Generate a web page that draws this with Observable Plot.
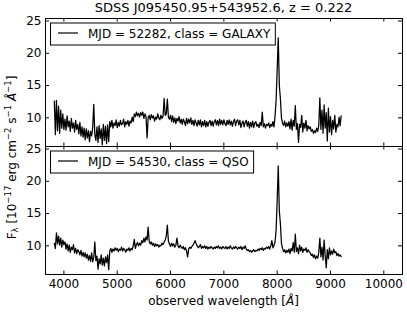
<!DOCTYPE html>
<html><head><meta charset="utf-8">
<script src="https://cdn.jsdelivr.net/npm/d3@7"></script>
<script src="https://cdn.jsdelivr.net/npm/@observablehq/plot@0.6"></script>
<style>body{margin:0;background:#fff} #chart{position:relative;width:407px;height:315px}</style>
</head><body><div id="chart"></div>
<script>
const startWavelength = 3820;
const stepWavelength = 20;
const galaxyFlux = [
12.6,7.4,12.7,8.0,11.8,7.6,11.2,8.4,10.6,8.2,
9.8,8.1,10.3,8.6,9.5,7.9,9.9,8.4,9.2,7.8,
9.6,8.2,9.0,7.5,9.3,7.2,8.6,7.0,8.4,6.6,
8.3,6.9,8.0,6.3,7.9,7.2,8.5,12.1,7.4,6.5,
8.6,6.2,8.8,6.8,8.3,5.8,9.0,6.5,8.7,6.0,
8.9,6.3,9.4,8.6,9.6,8.4,9.2,8.8,9.7,8.5,
9.3,8.7,9.6,8.9,9.1,9.8,8.6,9.4,9.0,9.6,
8.7,9.5,9.2,10.1,9.4,10.6,10.2,10.9,10.3,10.7,
10.1,10.8,10.4,10.9,9.9,10.6,10.2,6.9,10.0,10.4,
9.7,10.5,10.0,10.3,9.5,10.1,9.8,10.6,10.0,9.7,
10.4,9.9,10.3,13.0,10.4,10.6,12.9,10.1,9.8,10.4,
9.4,10.3,9.3,10.0,9.1,9.9,9.5,10.2,9.2,9.8,
9.0,9.8,9.4,8.8,9.9,9.1,9.8,9.2,10.0,9.0,
9.6,8.8,9.7,9.2,8.7,9.6,8.9,9.7,8.6,9.4,
8.8,9.6,8.6,9.4,8.7,9.3,9.6,8.8,9.5,8.7,
9.4,9.7,8.9,9.6,8.8,9.8,9.0,9.6,8.9,9.7,
9.1,8.8,9.6,9.0,9.7,8.9,9.5,8.7,9.4,9.8,
8.8,9.5,9.7,8.9,9.6,8.5,9.2,9.5,8.6,9.3,
9.6,8.7,9.4,8.4,9.3,8.6,9.5,8.5,9.2,9.4,
8.7,9.0,8.5,9.3,8.8,10.9,8.6,9.1,8.4,9.0,
8.8,9.2,8.5,9.0,8.7,9.4,8.6,10.3,12.8,17.5,
22.4,15.0,13.0,10.0,9.2,8.8,9.5,8.6,9.2,8.7,
9.4,8.3,9.8,8.1,9.6,8.7,11.9,8.2,9.1,6.2,
9.0,8.5,10.4,7.8,9.2,8.4,9.6,8.0,8.8,8.3,
8.6,7.9,8.2,7.6,8.0,7.7,8.4,7.9,8.8,13.1,
8.2,11.2,7.6,12.0,8.4,10.8,6.4,11.5,7.8,10.2,
7.4,9.6,8.3,10.4,7.8,9.0,8.6,10.1,8.8,10.3];
const qsoFlux = [
10.4,9.6,12.0,10.3,11.5,10.1,11.2,9.8,10.9,10.2,
10.6,9.5,10.3,9.2,10.1,9.0,9.8,9.4,10.2,8.9,
9.6,8.8,9.4,9.1,8.6,9.3,8.4,9.0,8.3,8.9,
8.1,8.7,7.8,8.5,7.6,8.9,7.5,8.2,10.6,7.7,
8.4,6.4,8.0,7.2,8.6,7.0,8.1,6.9,8.3,7.4,
8.6,6.3,9.2,9.6,9.0,9.5,9.2,9.7,9.3,9.6,
9.1,9.5,9.3,9.8,9.2,9.6,9.4,9.0,9.5,9.3,
9.7,9.2,9.6,9.4,10.0,11.0,9.6,10.2,10.5,10.0,
10.4,10.1,10.8,10.5,11.2,10.6,11.4,10.9,12.9,10.7,
10.3,10.6,10.1,10.4,9.9,10.3,10.0,10.2,9.8,10.1,
10.0,10.4,10.2,10.6,10.9,11.5,13.2,10.7,10.3,9.9,
10.4,10.0,10.3,9.8,10.1,11.2,10.0,9.7,10.1,9.8,
9.6,9.9,9.4,9.7,9.2,8.3,9.5,9.8,9.6,9.9,
10.1,10.4,10.8,10.3,10.0,9.7,9.9,10.2,9.6,9.9,
9.7,10.0,9.6,9.9,9.5,9.8,9.6,9.9,9.7,9.5,
9.8,9.6,9.9,9.7,10.0,9.6,9.8,9.5,9.9,9.7,
9.6,9.9,9.5,9.8,9.6,10.0,9.7,9.5,9.8,9.6,
9.9,9.7,9.5,9.8,9.6,9.9,9.4,9.8,9.6,10.0,
9.5,9.3,9.4,9.1,9.3,9.0,9.2,9.4,9.1,9.3,
9.2,9.5,9.3,9.6,9.4,9.7,9.3,9.6,9.5,9.8,
9.6,9.9,9.5,10.0,10.8,9.7,10.1,10.6,12.5,17.0,
22.4,15.4,13.5,10.4,9.6,9.1,9.4,8.9,9.3,9.0,
9.5,8.8,9.6,9.2,10.5,9.0,11.8,9.1,9.7,8.8,
10.1,9.2,9.8,9.0,9.5,9.3,9.7,9.0,9.4,9.1,
8.9,8.5,8.7,8.2,8.6,8.0,8.4,8.1,9.0,11.2,
8.3,9.8,7.8,10.9,8.5,6.6,9.4,8.0,9.7,8.6,
9.2,8.7,9.5,8.9,9.1,8.5,8.8,8.4,8.6,8.3];
const panels = ["GALAXY", "QSO"];
const legendLabels = ["MJD = 52282, class = GALAXY", "MJD = 54530, class = QSO"];
const xTicks = [4000, 5000, 6000, 7000, 8000, 9000, 10000];
const yTicks = [10, 15, 20, 25];
const titleText = "SDSS J095450.95+543952.6, z = 0.222";

const rows = [];
galaxyFlux.forEach((f, i) => rows.push({panel: "GALAXY", wl: startWavelength + i * stepWavelength, flux: f}));
qsoFlux.forEach((f, i) => rows.push({panel: "QSO", wl: startWavelength + i * stepWavelength, flux: f}));

const W = 407, H = 315, mL = 45, mR = 5, mT = 17, mB = 41;
const fh = (H - mT - mB) / 2, fw = W - mL - mR, tl = 4;
const font = "DejaVu Sans";

const plot = Plot.plot({
  width: W, height: H,
  marginLeft: mL, marginRight: mR, marginTop: mT, marginBottom: mB,
  style: {fontFamily: font, fontSize: "12px", background: "#fff", color: "#000", overflow: "visible"},
  x: {domain: [3655, 10350]},
  y: {domain: [5.56, 25.39]},
  fy: {domain: panels, padding: 0, axis: null},
  marks: [
    Plot.line(rows, {x: "wl", y: "flux", fy: "panel", stroke: "black", strokeWidth: 1.25}),
    Plot.tickX(xTicks, {x: d => d, insetTop: fh - tl, stroke: "black"}),
    Plot.tickX(xTicks, {x: d => d, insetBottom: fh - tl, stroke: "black"}),
    Plot.tickY(yTicks, {y: d => d, insetRight: fw - tl, stroke: "black"}),
    Plot.tickY(yTicks, {y: d => d, insetLeft: fw - tl, stroke: "black"}),
    Plot.frame({stroke: "black", strokeWidth: 1}),
    Plot.axisX({ticks: xTicks, tickSize: 0, tickPadding: 5, tickFormat: d3.format("d"), label: null, fontSize: 12, fill: "black"}),
    Plot.axisY({ticks: yTicks, tickSize: 0, tickPadding: 4, label: null, fontSize: 12, fill: "black"})
  ]
});
document.getElementById("chart").appendChild(plot);

const svg = d3.select(plot);
const fy = plot.scale("fy");
const cx = mL + fw / 2;

svg.append("text").attr("x", cx).attr("y", 12).attr("text-anchor", "middle")
  .attr("font-family", font).attr("font-size", 13).attr("fill", "black").text(titleText);

const xl = svg.append("text").attr("x", cx).attr("y", 305).attr("text-anchor", "middle")
  .attr("font-family", font).attr("font-size", 12).attr("fill", "black");
xl.append("tspan").text("observed wavelength [");
xl.append("tspan").attr("font-style", "italic").text("Å");
xl.append("tspan").text("]");

const yl = svg.append("text").attr("transform", `translate(15.5,${H / 2}) rotate(-90)`)
  .attr("text-anchor", "middle").attr("font-family", font).attr("font-size", 12).attr("fill", "black");
const parts = [["F", 0, 12], ["λ", 2.5, 8.5], [" [10", -2.5, 12], ["−17", -4.5, 8.5], [" erg cm", 4.5, 12],
  ["−2", -4.5, 8.5], [" s", 4.5, 12], ["−1", -4.5, 8.5], [" ", 4.5, 12], ["Å", 0, 12, true], ["−1", -4.5, 8.5], ["]", 4.5, 12]];
parts.forEach(([t, dy, fs, it]) => {
  const s = yl.append("tspan").attr("dy", dy).attr("font-size", fs).text(t);
  if (it) s.attr("font-style", "italic");
});

panels.forEach((p, i) => {
  const top = fy.apply(p);
  const g = svg.append("g");
  const box = g.append("rect").attr("x", 50.5).attr("y", top + 5).attr("height", 22)
    .attr("fill", "white").attr("stroke", "black").attr("stroke-width", 1);
  g.append("line").attr("x1", 58).attr("x2", 78).attr("y1", top + 15).attr("y2", top + 15)
    .attr("stroke", "black").attr("stroke-width", 1.2);
  const t = g.append("text").attr("x", 88).attr("y", top + 20).attr("text-anchor", "start")
    .attr("font-family", font).attr("font-size", 12).attr("fill", "black").text(legendLabels[i]);
  const len = t.node().getComputedTextLength();
  box.attr("width", 88 + len + 5 - 50.5);
});
</script></body></html>
